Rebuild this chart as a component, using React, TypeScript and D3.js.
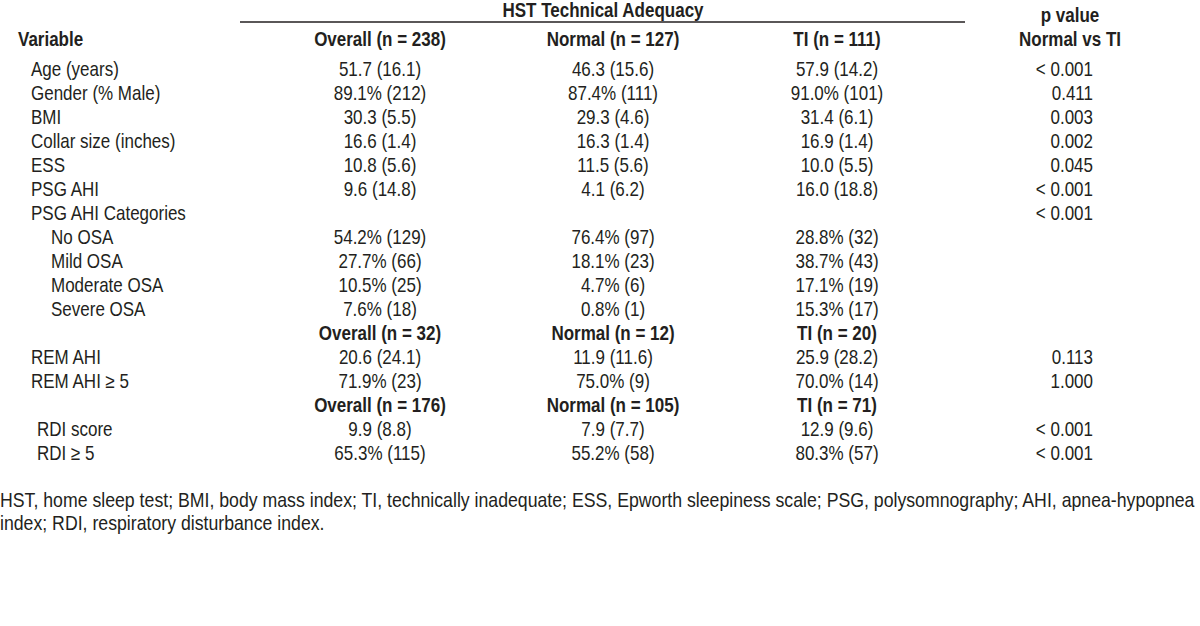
import React from "react";
import * as d3 from "d3";

const groupTitle = "HST Technical Adequacy";
const colHeaders = ["Overall (n = 238)", "Normal (n = 127)", "TI (n = 111)"];
const pHeader = ["p value", "Normal vs TI"];

const rowLabels = [
  "Age (years)", "Gender (% Male)", "BMI", "Collar size (inches)", "ESS", "PSG AHI",
  "PSG AHI Categories", "No OSA", "Mild OSA", "Moderate OSA", "Severe OSA",
  "", "REM AHI", "REM AHI \u2265 5", "", "RDI score", "RDI \u2265 5",
];
const rowIndent = [1, 1, 1, 1, 1, 1, 1, 2, 2, 2, 2, 0, 1, 1, 0, 3, 3];
const rowIsSub = [false, false, false, false, false, false, false, false, false, false, false, true, false, false, true, false, false];
const overallVals = [
  "51.7 (16.1)", "89.1% (212)", "30.3 (5.5)", "16.6 (1.4)", "10.8 (5.6)", "9.6 (14.8)",
  "", "54.2% (129)", "27.7% (66)", "10.5% (25)", "7.6% (18)",
  "Overall (n = 32)", "20.6 (24.1)", "71.9% (23)", "Overall (n = 176)", "9.9 (8.8)", "65.3% (115)",
];
const normalVals = [
  "46.3 (15.6)", "87.4% (111)", "29.3 (4.6)", "16.3 (1.4)", "11.5 (5.6)", "4.1 (6.2)",
  "", "76.4% (97)", "18.1% (23)", "4.7% (6)", "0.8% (1)",
  "Normal (n = 12)", "11.9 (11.6)", "75.0% (9)", "Normal (n = 105)", "7.9 (7.7)", "55.2% (58)",
];
const tiVals = [
  "57.9 (14.2)", "91.0% (101)", "31.4 (6.1)", "16.9 (1.4)", "10.0 (5.5)", "16.0 (18.8)",
  "", "28.8% (32)", "38.7% (43)", "17.1% (19)", "15.3% (17)",
  "TI (n = 20)", "25.9 (28.2)", "70.0% (14)", "TI (n = 71)", "12.9 (9.6)", "80.3% (57)",
];
const pVals = [
  "< 0.001", "0.411", "0.003", "0.002", "0.045", "< 0.001",
  "< 0.001", "", "", "", "",
  "", "0.113", "1.000", "", "< 0.001", "< 0.001",
];
const footnote = [
  "HST, home sleep test; BMI, body mass index; TI, technically inadequate; ESS, Epworth sleepiness scale; PSG, polysomnography; AHI, apnea-hypopnea",
  "index; RDI, respiratory disturbance index.",
];

const W = 1200;
const H = 626;
const FONT = "'Liberation Sans', Arial, sans-serif";
const FS = 20;
const SX = 0.85;
const SX_FOOT = 0.885;
const TXT = "#231f20";

type TProps = { x: number; y: number; anchor?: "start" | "middle" | "end"; bold?: boolean; sx?: number; children: React.ReactNode };
function T({ x, y, anchor = "start", bold = false, sx = SX, children }: TProps) {
  return (
    <text transform={`translate(${x},${y}) scale(${sx},1)`} textAnchor={anchor} fontWeight={bold ? "bold" : "normal"}>
      {children}
    </text>
  );
}

export default function App() {
  const idx = d3.range(rowLabels.length);
  const y = d3.scalePoint<number>().domain(idx).range([69, 453]);
  const colKeys = ["overall", "normal", "ti"];
  const colX = d3.scaleOrdinal<string, number>().domain(colKeys).range([380, 613, 837]);
  const indentX = d3.scaleOrdinal<number, number>().domain([0, 1, 2, 3]).range([18, 31, 51, 37]);
  const pRight = 1093;
  const pCenter = 1070;
  const dy = 7;
  const cols: [string, string[]][] = [["overall", overallVals], ["normal", normalVals], ["ti", tiVals]];

  return (
    <svg width={W} height={H} style={{ position: "absolute", left: 0, top: 0 }} fontFamily={FONT} fontSize={FS} fill={TXT}>
      <rect width={W} height={H} fill="#fff" />
      <T x={603} y={10 + dy} anchor="middle" bold>{groupTitle}</T>
      <line x1={240} x2={965} y1={22} y2={22} stroke={TXT} strokeWidth={1.5} />
      <T x={pCenter} y={15 + dy} anchor="middle" bold>{pHeader[0]}</T>
      <T x={pCenter} y={39 + dy} anchor="middle" bold>{pHeader[1]}</T>
      <T x={18} y={39 + dy} bold>Variable</T>
      {colHeaders.map((h, i) => (
        <T key={h} x={colX(colKeys[i])} y={39 + dy} anchor="middle" bold>{h}</T>
      ))}
      {idx.map((i) => (
        <g key={i}>
          {rowLabels[i] && <T x={indentX(rowIndent[i])} y={(y(i) as number) + dy}>{rowLabels[i]}</T>}
          {cols.map(([k, vals]) =>
            vals[i] ? (
              <T key={k} x={colX(k)} y={(y(i) as number) + dy} anchor="middle" bold={rowIsSub[i]}>{vals[i]}</T>
            ) : null
          )}
          {pVals[i] && <T x={pRight} y={(y(i) as number) + dy} anchor="end">{pVals[i]}</T>}
        </g>
      ))}
      {footnote.map((f, i) => (
        <T key={i} x={0} y={500 + i * 23 + dy} sx={SX_FOOT}>{f}</T>
      ))}
    </svg>
  );
}
